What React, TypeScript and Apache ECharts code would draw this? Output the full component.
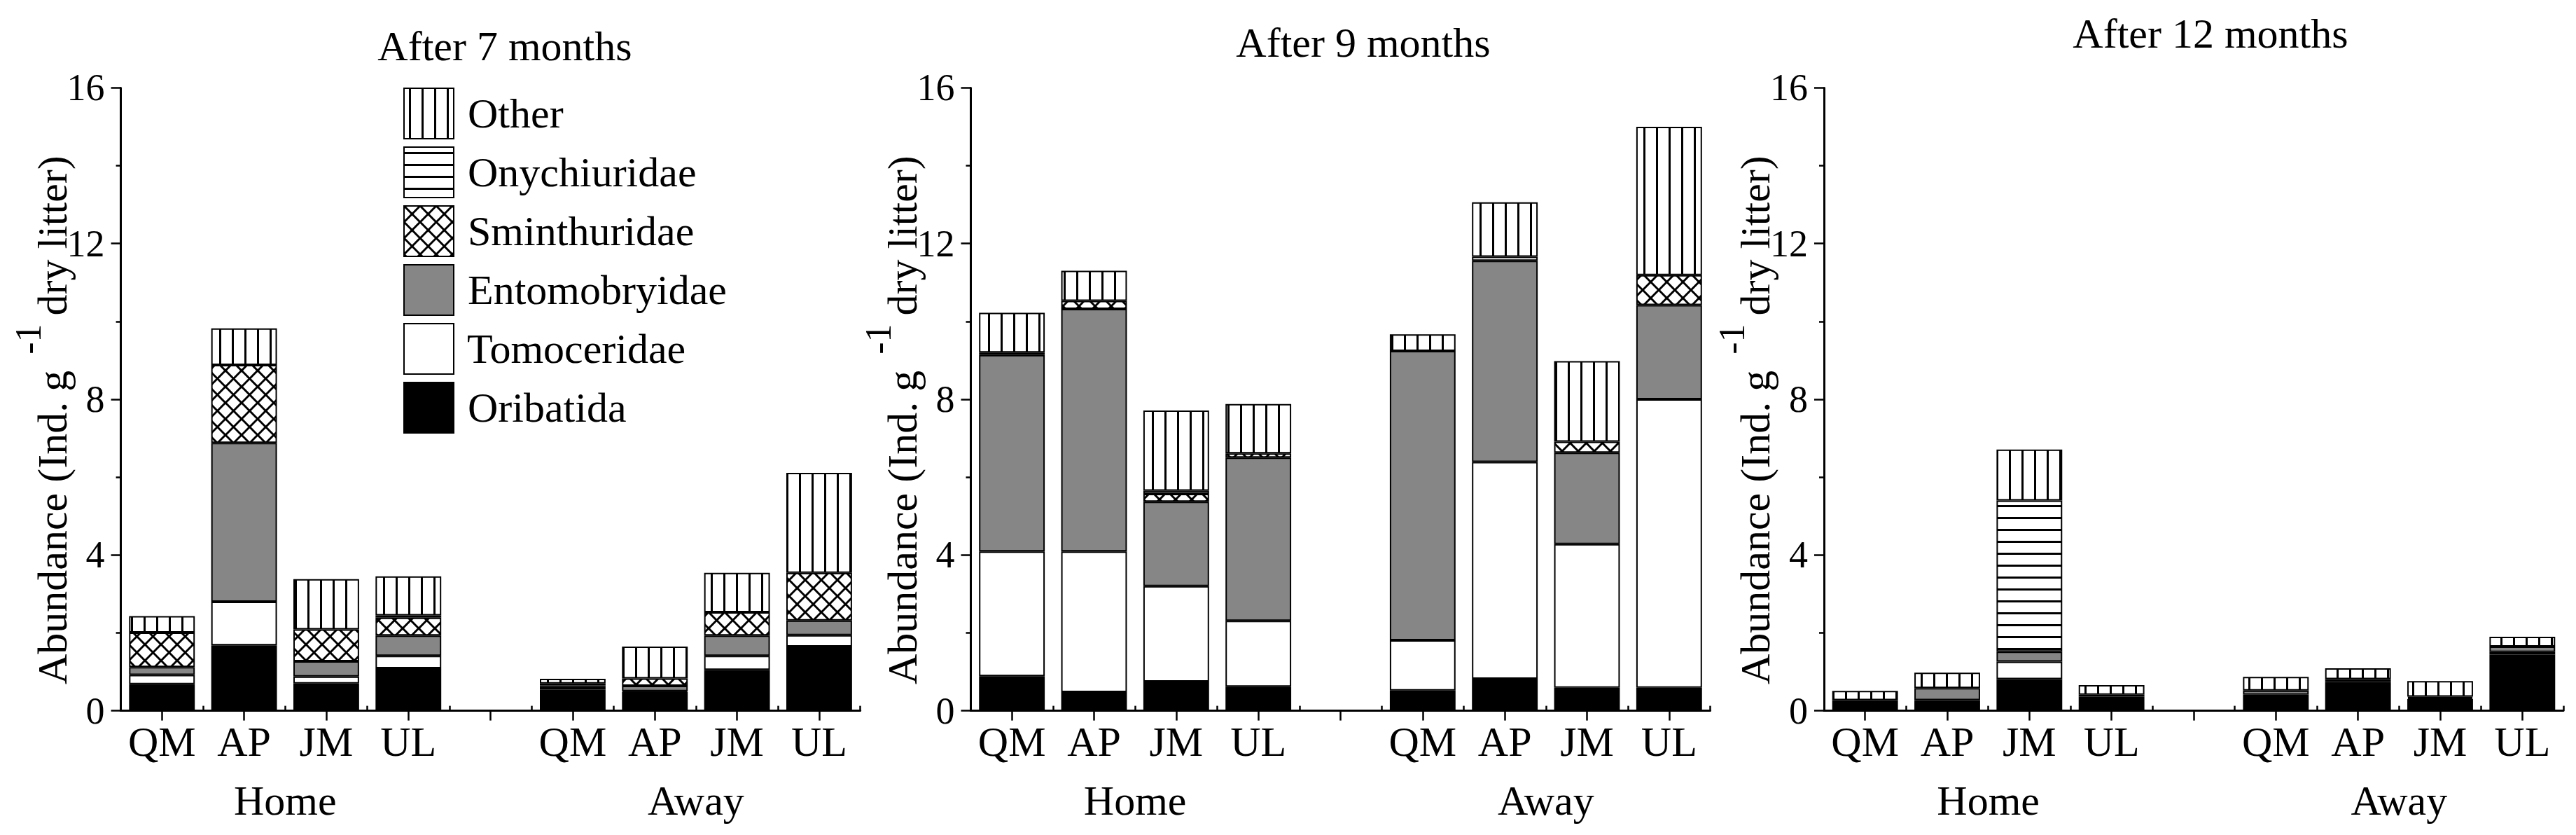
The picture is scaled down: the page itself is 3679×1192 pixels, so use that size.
import React, { useEffect, useRef } from "react";
import * as echarts from "echarts";

const W = 3679;
const H = 1192;
const FONT = "'Liberation Serif', serif";
const FONT_CSS = '"Liberation Serif", serif';

const categories = ["H-QM", "H-AP", "H-JM", "H-UL", "gap", "A-QM", "A-AP", "A-JM", "A-UL"];
const tickLabels = ["QM", "AP", "JM", "UL", "", "QM", "AP", "JM", "UL"];
const groupLabels = ["Home", "Away"];
const panelTitles = ["After 7 months", "After 9 months", "After 12 months"];
const yNameParts = ["Abundance (Ind. g", "-1", "dry litter)"];
const taxa = ["Oribatida", "Tomoceridae", "Entomobryidae", "Sminthuridae", "Onychiuridae", "Other"];
const legendOrder = ["Other", "Onychiuridae", "Sminthuridae", "Entomobryidae", "Tomoceridae", "Oribatida"];

// After 7 months
const m7Oribatida = [0.68, 1.68, 0.7, 1.09, 0, 0.54, 0.48, 1.05, 1.65];
const m7Tomoceridae = [0.24, 1.12, 0.18, 0.32, 0, 0.07, 0.02, 0.36, 0.29];
const m7Entomobryidae = [0.2, 4.08, 0.39, 0.52, 0, 0.04, 0.14, 0.52, 0.38];
const m7Sminthuridae = [0.89, 2.0, 0.82, 0.46, 0, 0.05, 0.19, 0.6, 1.22];
const m7Onychiuridae = [0, 0, 0, 0.06, 0, 0, 0, 0, 0];
const m7Other = [0.42, 0.94, 1.29, 1.0, 0, 0.12, 0.82, 1.01, 2.57];

// After 9 months
const m9Oribatida = [0.89, 0.48, 0.75, 0.62, 0, 0.52, 0.82, 0.59, 0.59];
const m9Tomoceridae = [3.2, 3.61, 2.45, 1.69, 0, 1.29, 5.57, 3.69, 7.41];
const m9Entomobryidae = [5.05, 6.23, 2.17, 4.19, 0, 7.43, 5.17, 2.35, 2.42];
const m9Sminthuridae = [0.06, 0.21, 0.2, 0.11, 0, 0, 0, 0.28, 0.77];
const m9Onychiuridae = [0, 0, 0.08, 0, 0, 0, 0.1, 0, 0];
const m9Other = [1.02, 0.77, 2.06, 1.27, 0, 0.43, 1.4, 2.07, 3.81];

// After 12 months
const m12Oribatida = [0.21, 0.27, 0.81, 0.36, 0, 0.41, 0.74, 0.3, 1.44];
const m12Tomoceridae = [0, 0, 0.45, 0.05, 0, 0, 0, 0.03, 0.07];
const m12Entomobryidae = [0.06, 0.31, 0.26, 0, 0, 0.11, 0.07, 0.03, 0.14];
const m12Sminthuridae = [0, 0, 0, 0, 0, 0, 0, 0, 0];
const m12Onychiuridae = [0, 0, 3.88, 0, 0, 0, 0, 0, 0];
const m12Other = [0.24, 0.4, 1.31, 0.25, 0, 0.35, 0.28, 0.4, 0.25];

const panels = [
  [m7Oribatida, m7Tomoceridae, m7Entomobryidae, m7Sminthuridae, m7Onychiuridae, m7Other],
  [m9Oribatida, m9Tomoceridae, m9Entomobryidae, m9Sminthuridae, m9Onychiuridae, m9Other],
  [m12Oribatida, m12Tomoceridae, m12Entomobryidae, m12Sminthuridae, m12Onychiuridae, m12Other],
];

// layout
const gridLefts = [172.6, 1386.5, 2605];
const gridWidth = 1056;
const gridTop = 125.4;
const gridHeight = 889.2;
const titlePos = [
  [721, 66],
  [1947, 61],
  [3157, 48],
];
const groupLabelY = 1143;
const yNameOffsetX = 98; // distance from axis line to centre of name text
const yNameStartY = 977; // bottom end of rotated name
const supOffsetX = 34;

function makeTile(kind: string) {
  const c = document.createElement("canvas");
  let w = 18;
  let h = 6;
  if (kind === "h") {
    w = 6;
    h = 17;
  } else if (kind === "x") {
    w = 23;
    h = 23;
  }
  c.width = w;
  c.height = h;
  const ctx = c.getContext("2d") as CanvasRenderingContext2D;
  ctx.fillStyle = "#fff";
  ctx.fillRect(0, 0, w, h);
  ctx.fillStyle = "#000";
  ctx.strokeStyle = "#000";
  if (kind === "v") {
    ctx.fillRect(7, 0, 3, h);
  } else if (kind === "h") {
    ctx.fillRect(0, 7, w, 3);
  } else {
    ctx.lineWidth = 3;
    for (const d of [-w, 0, w]) {
      ctx.beginPath();
      ctx.moveTo(d, 0);
      ctx.lineTo(d + w, h);
      ctx.stroke();
      ctx.beginPath();
      ctx.moveTo(d + w, 0);
      ctx.lineTo(d, h);
      ctx.stroke();
    }
  }
  return { type: "pattern", image: c.toDataURL(), repeat: "repeat", imageWidth: w, imageHeight: h };
}

function measure(text: string, size: number) {
  const c = document.createElement("canvas");
  const ctx = c.getContext("2d") as CanvasRenderingContext2D;
  ctx.font = size + "px " + FONT_CSS;
  return ctx.measureText(text).width;
}

export default function App() {
  const ref = useRef<HTMLDivElement>(null);
  useEffect(() => {
    document.body.style.margin = "0";
    if (!ref.current) return;
    const chart = echarts.init(ref.current, null, { renderer: "svg" });
    const fills: any = {
      Oribatida: "#000000",
      Tomoceridae: "#ffffff",
      Entomobryidae: "#868686",
      Sminthuridae: makeTile("x"),
      Onychiuridae: makeTile("h"),
      Other: makeTile("v"),
    };
    const grids = gridLefts.map((l) => ({ left: l, top: gridTop, width: gridWidth, height: gridHeight, containLabel: false }));
    const xAxes: any[] = [];
    const yAxes: any[] = [];
    const series: any[] = [];
    const blackLine = { color: "#000", width: 3 };
    const tickLine = { color: "#000", width: 2.5 };
    gridLefts.forEach((_, p) => {
      xAxes.push({
        gridIndex: p,
        type: "category",
        data: categories,
        boundaryGap: true,
        axisLine: { show: true, onZero: false, lineStyle: blackLine },
        axisTick: { show: true, alignWithLabel: true, interval: 0, length: 14, lineStyle: tickLine },
        axisLabel: {
          interval: 0,
          formatter: (_v: string, i: number) => tickLabels[i],
          fontSize: 60,
          fontFamily: FONT,
          color: "#000",
          margin: 44,
          verticalAlign: "middle",
        },
        splitLine: { show: false },
      });
      xAxes.push({
        gridIndex: p,
        type: "category",
        data: categories,
        boundaryGap: true,
        axisLine: { show: false },
        axisTick: { show: true, alignWithLabel: false, interval: 0, length: 7, lineStyle: tickLine },
        axisLabel: { show: false },
        splitLine: { show: false },
      });
      yAxes.push({
        gridIndex: p,
        type: "value",
        min: 0,
        max: 16,
        interval: 4,
        axisLine: { show: true, lineStyle: blackLine },
        axisTick: { show: true, inside: false, length: 14, lineStyle: tickLine },
        minorTick: { show: true, splitNumber: 2, length: 7, lineStyle: tickLine },
        splitLine: { show: false },
        minorSplitLine: { show: false },
        axisLabel: { fontSize: 54, fontFamily: FONT, color: "#000", margin: 23, padding: [0, 0, 10, 0] },
      });
      taxa.forEach((t, k) => {
        series.push({
          type: "bar",
          name: t,
          stack: "s" + p,
          xAxisIndex: p * 2,
          yAxisIndex: p,
          barCategoryGap: "20%",
          data: panels[p][k].map((v) => (v > 0 ? v : null)),
          itemStyle: { color: fills[t], borderColor: "#000", borderWidth: 2 },
          emphasis: { disabled: true },
        });
      });
    });
    const graphic: any[] = [];
    const w1 = measure(yNameParts[0], 60);
    const w2 = measure(yNameParts[1], 52);
    const gap1 = 23;
    const gap2 = 12;
    panelTitles.forEach((t, i) => {
      graphic.push({
        type: "text",
        x: titlePos[i][0],
        y: titlePos[i][1],
        style: { text: t, fontSize: 60, fontFamily: FONT, fill: "#000", align: "center", verticalAlign: "middle" },
      });
      groupLabels.forEach((g, j) => {
        const frac = j === 0 ? 2 / 9 : 7 / 9;
        graphic.push({
          type: "text",
          x: gridLefts[i] + gridWidth * frac,
          y: groupLabelY,
          style: { text: g, fontSize: 60, fontFamily: FONT, fill: "#000", align: "center", verticalAlign: "middle" },
        });
      });
      const cx = gridLefts[i] - yNameOffsetX;
      graphic.push({
        type: "text",
        x: cx,
        y: yNameStartY,
        rotation: Math.PI / 2,
        style: { text: yNameParts[0], fontSize: 60, fontFamily: FONT, fill: "#000", align: "left", verticalAlign: "middle" },
      });
      graphic.push({
        type: "text",
        x: cx - supOffsetX,
        y: yNameStartY - w1 - gap1,
        rotation: Math.PI / 2,
        style: { text: yNameParts[1], fontSize: 52, fontFamily: FONT, fill: "#000", align: "left", verticalAlign: "middle" },
      });
      graphic.push({
        type: "text",
        x: cx,
        y: yNameStartY - w1 - gap1 - w2 - gap2,
        rotation: Math.PI / 2,
        style: { text: yNameParts[2], fontSize: 60, fontFamily: FONT, fill: "#000", align: "left", verticalAlign: "middle" },
      });
    });
    chart.setOption({
      animation: false,
      backgroundColor: "#fff",
      grid: grids,
      xAxis: xAxes,
      yAxis: yAxes,
      legend: {
        data: legendOrder,
        orient: "vertical",
        left: 576,
        top: 125,
        padding: 0,
        icon: "rect",
        itemWidth: 71,
        itemHeight: 72,
        itemGap: 10,
        selectedMode: false,
        formatter: (n: string) => " " + n,
        textStyle: { fontSize: 60, fontFamily: FONT, color: "#000" },
      },
      graphic,
      series,
    });
    return () => chart.dispose();
  }, []);
  return <div ref={ref} style={{ width: W, height: H }} />;
}
